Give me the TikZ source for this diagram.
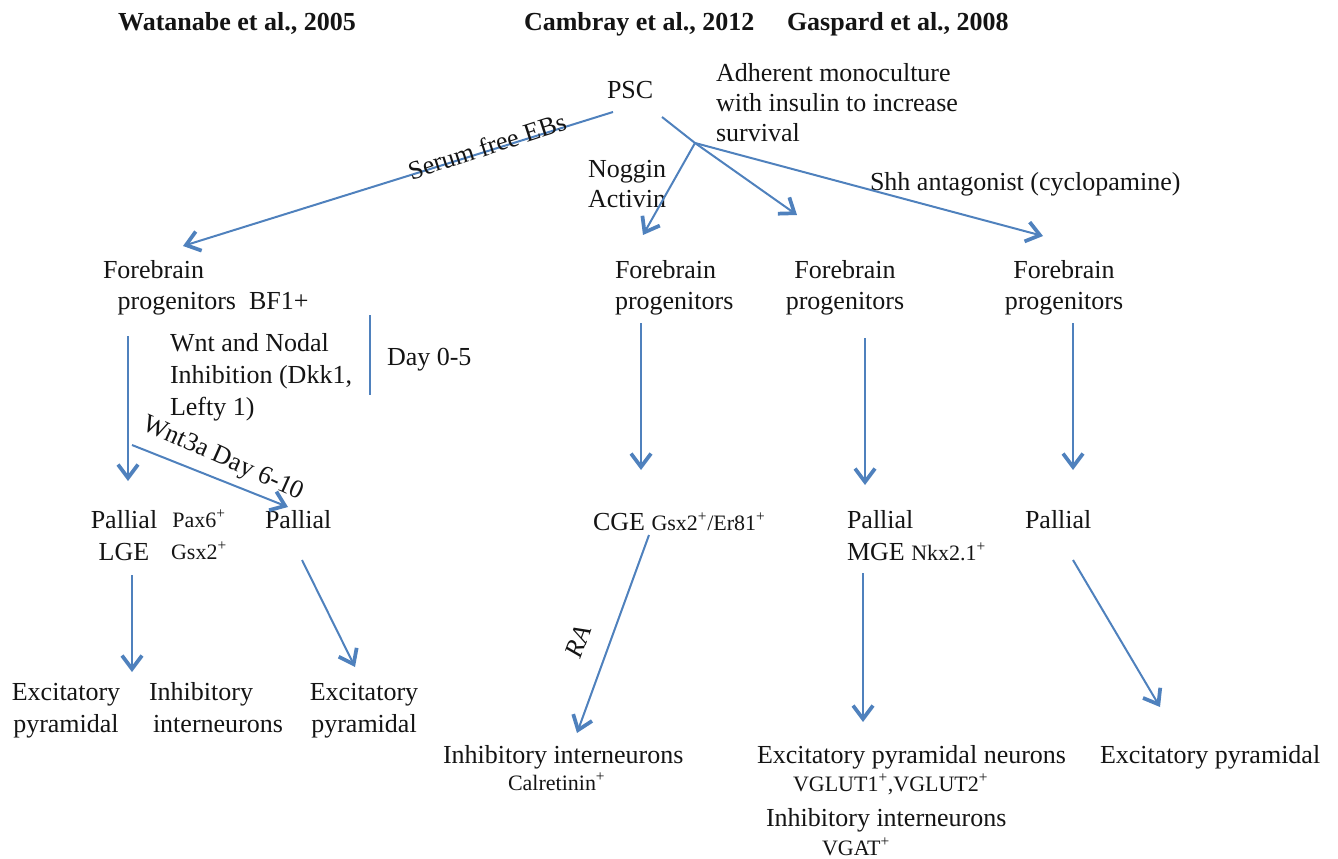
\documentclass[tikz,border=0pt]{standalone}
\usepackage{fontspec}
\setmainfont{Liberation Serif}
\usetikzlibrary{arrows.meta}
\definecolor{flowblue}{RGB}{79,129,189}
\definecolor{ink}{RGB}{20,20,20}
\newcommand\bodysize{\fontsize{19.5pt}{24pt}\selectfont}
\newcommand\tightsize{\fontsize{19.5pt}{22.5pt}\selectfont}
\newcommand\marksize{\fontsize{16.5pt}{24pt}\selectfont}
\newcommand\plus{\textsuperscript{+}}
\begin{document}
\begin{tikzpicture}[x=0.75pt,y=-0.75pt,
  lbl/.style={inner sep=0pt,outer sep=0pt,text=ink,font=\bodysize},
  heading/.style={lbl,font=\bodysize\bfseries},
  marker/.style={lbl,font=\marksize},
  flow/.style={draw=flowblue,line width=1.5pt,
    -{Straight Barb[length=10pt,width=15pt,line width=2.8pt]}},
  plainline/.style={draw=flowblue,line width=1.5pt}]

\path[use as bounding box] (0,0) rectangle (1338,859);

% column headings
\node[heading,anchor=base] (tw) at (237,31) {Watanabe et al., 2005};
\node[heading,anchor=base west] (tc) at (524,31) {Cambray et al., 2012};
\node[heading,anchor=base west] (tg) at (787,31) {Gaspard et al., 2008};

% starting cells and culture conditions (multi-line nodes sit on their last baseline)
\node[lbl,anchor=base west] (psc) at (607,99) {PSC};
\node[lbl,font=\tightsize,align=left,anchor=base west] (adh) at (716,142)
  {Adherent monoculture\\with insulin to increase\\survival};
\node[lbl,font=\tightsize,align=left,anchor=base west] (nog) at (588,208) {Noggin\\Activin};
\node[lbl,anchor=base west] (shh) at (870,191) {Shh antagonist (cyclopamine)};

% forebrain progenitors
\node[lbl,align=left,anchor=base west] (fbw) at (103,310)
  {Forebrain\\\hspace*{11pt}progenitors~ BF1+};
\node[lbl,align=left,anchor=base west] (fbc) at (615,310) {Forebrain\\progenitors};
\node[lbl,align=center,anchor=base] (fbg) at (845,310) {Forebrain\\progenitors};
\node[lbl,align=center,anchor=base] (fbs) at (1064,310) {Forebrain\\progenitors};

\node[lbl,align=left,anchor=base west] (wnt) at (170,415)
  {Wnt and Nodal\\Inhibition (Dkk1,\\Lefty 1)};
\node[lbl,anchor=base west] (day) at (387,365) {Day 0-5};

% regional identities
\node[lbl,align=center,anchor=base] (lge) at (124,560) {Pallial\\LGE};
\node[marker,align=center,anchor=base] (pax) at (199,559) {Pax6\plus\\Gsx2\plus};
\node[lbl,anchor=base west] (palw) at (265,528) {Pallial};
\node[lbl,anchor=base west] (cge) at (593,530) {CGE {\marksize Gsx2\plus/Er81\plus}};
\node[lbl,align=left,anchor=base west] (mge) at (847,560) {Pallial\\MGE {\marksize Nkx2.1\plus}};
\node[lbl,anchor=base west] (pals) at (1025,528) {Pallial};

% neuronal outcomes
\node[lbl,align=center,anchor=base] (exw) at (66,732) {Excitatory\\pyramidal};
\node[lbl,align=left,anchor=base west] (inw) at (149,732) {Inhibitory\\\hspace*{3pt}interneurons};
\node[lbl,align=center,anchor=base] (exw2) at (364,732) {Excitatory\\pyramidal};
\node[lbl,anchor=base west] (inc) at (443,763) {Inhibitory interneurons};
\node[marker,anchor=base west] (calr) at (508,790) {Calretinin\plus};
\node[lbl,anchor=base west] (exm) at (757,763) {Excitatory pyramidal neurons};
\node[marker,anchor=base west] (vglut) at (793,791) {VGLUT1\plus,VGLUT2\plus};
\node[lbl,anchor=base west] (inm) at (766,826) {Inhibitory interneurons};
\node[marker,anchor=base west] (vgat) at (822,855) {VGAT\plus};
\node[lbl,anchor=base west] (exs) at (1100,763) {Excitatory pyramidal};

% connector end points
\coordinate (psc-w) at (613,112);
\coordinate (psc-e) at (662,117);
\coordinate (split) at (695,143);
\coordinate (fbw-in) at (183,246);
\coordinate (fbc-in) at (643,235);
\coordinate (fbg-in) at (797,215);
\coordinate (fbs-in) at (1043,236);
\coordinate (fbw-out) at (128,336);
\coordinate (lge-in) at (128,481);
\coordinate (wnt-from) at (132,445);
\coordinate (palw-in) at (288,507);
\coordinate (bar-top) at (370,315);
\coordinate (bar-bot) at (370,395);
\coordinate (fbc-out) at (641,323);
\coordinate (cge-in) at (641,470);
\coordinate (fbg-out) at (865,338);
\coordinate (mge-in) at (865,485);
\coordinate (fbs-out) at (1073,323);
\coordinate (pals-in) at (1073,470);
\coordinate (lge-out) at (132,575);
\coordinate (exw-in) at (132,672);
\coordinate (palw-out) at (302,560);
\coordinate (exw2-in) at (355,667);
\coordinate (cge-out) at (649,535);
\coordinate (inc-in) at (577,733);
\coordinate (mge-out) at (863,573);
\coordinate (exm-in) at (863,722);
\coordinate (pals-out) at (1073,560);
\coordinate (exs-in) at (1160,707);

% connectors
\draw[flow] (psc-w) -- (fbw-in);
\node[lbl,rotate=18] (serum) at (487,146) {Serum free EBs};
\draw[plainline] (psc-e) -- (split);
\draw[flow] (split) -- (fbc-in);
\draw[flow] (split) -- (fbg-in);
\draw[flow] (split) -- (fbs-in);

\draw[flow] (fbw-out) -- (lge-in);
\draw[flow] (wnt-from) -- (palw-in);
\node[lbl,rotate=-24] (wnt3a) at (223,459) {Wnt3a Day 6-10};
\draw[plainline] (bar-top) -- (bar-bot);

\draw[flow] (fbc-out) -- (cge-in);
\draw[flow] (fbg-out) -- (mge-in);
\draw[flow] (fbs-out) -- (pals-in);

\draw[flow] (lge-out) -- (exw-in);
\draw[flow] (palw-out) -- (exw2-in);
\draw[flow] (cge-out) -- (inc-in);
\node[lbl,font=\bodysize\itshape,rotate=70] (ra) at (578,642) {RA};
\draw[flow] (mge-out) -- (exm-in);
\draw[flow] (pals-out) -- (exs-in);
\end{tikzpicture}
\end{document}
